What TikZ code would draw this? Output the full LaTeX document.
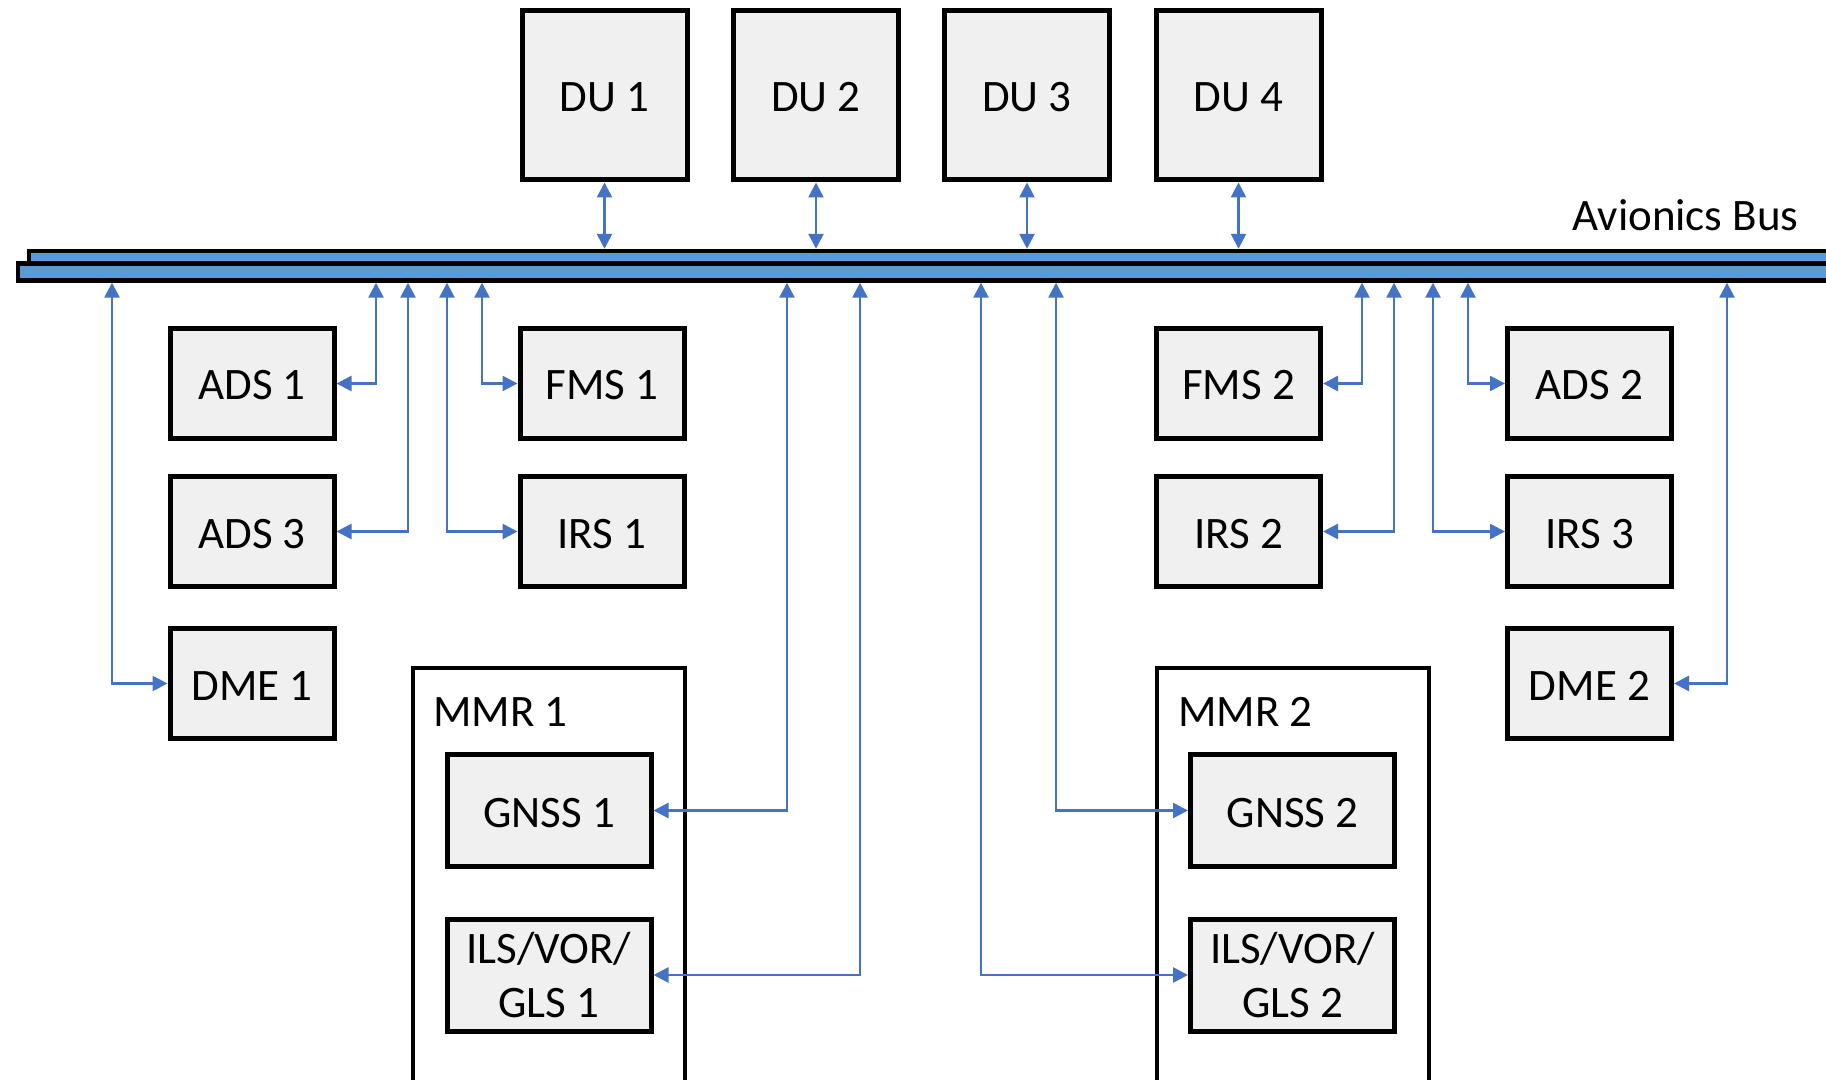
\documentclass[tikz,border=0pt]{standalone}
\usepackage{fontspec}
\setmainfont{Carlito}
\usetikzlibrary{arrows.meta}
\definecolor{busblue}{HTML}{5B9BD5}
\definecolor{linkblue}{HTML}{4472C4}
\definecolor{boxfill}{HTML}{F0F0F0}
\begin{document}
\begin{tikzpicture}[x=0.5pt,y=-0.5pt,
  font=\fontsize{22.5pt}{27pt}\selectfont,
  unit/.style={draw, line width=2.5pt, fill=boxfill, inner sep=0pt, align=center},
  oneline/.style={text height=16.5pt, text depth=0pt},
  lru/.style={unit, oneline, minimum width=82pt, minimum height=55pt},
  display/.style={unit, oneline, minimum width=82.5pt, minimum height=84.5pt},
  radio/.style={unit, minimum width=102pt, minimum height=56pt},
  rack/.style={draw, line width=2pt, fill=white, inner sep=0pt, minimum width=136pt, minimum height=216pt},
  busbar/.style={draw, line width=2.2pt, fill=busblue, inner sep=0pt},
  caption/.style={anchor=base west, inner sep=0pt},
  link/.style={linkblue, line width=1.3pt,
    {Triangle[length=7.5pt,width=7.5pt]}-{Triangle[length=7.5pt,width=7.5pt]}}]
\clip (0,0) rectangle (1826,1080);

% avionics bus: two stacked bars
\node[busbar, minimum width=935.5pt, minimum height=6.25pt] (busU) at (964.5,257.25) {};
\node[busbar, minimum width=941pt, minimum height=8.5pt] (busL) at (959,272) {};
\node[caption] (buslabel) at (1572,231) {Avionics Bus};

% display units
\node[display] (du1) at (604.5,95.5) {DU 1};
\node[display] (du2) at (816,95.5) {DU 2};
\node[display] (du3) at (1027,95.5) {DU 3};
\node[display] (du4) at (1238.5,95.5) {DU 4};

% left side units
\node[lru] (ads1) at (252,383.5) {ADS 1};
\node[lru] (ads3) at (252,531.5) {ADS 3};
\node[lru] (dme1) at (252,683.5) {DME 1};
\node[lru] (fms1) at (602,383.5) {FMS 1};
\node[lru] (irs1) at (602,531.5) {IRS 1};

% right side units
\node[lru] (fms2) at (1238.5,383.5) {FMS 2};
\node[lru] (irs2) at (1238.5,531.5) {IRS 2};
\node[lru] (ads2) at (1589.5,383.5) {ADS 2};
\node[lru] (irs3) at (1589.5,531.5) {IRS 3};
\node[lru] (dme2) at (1589.5,683.5) {DME 2};

% multi-mode receivers
\node[rack] (mmr1) at (549,884) {};
\node[caption] (mmr1label) at (433,726) {MMR 1};
\node[radio, oneline] (gnss1) at (549,810.5) {GNSS 1};
\node[radio] (ils1) at (549,975) {ILS/VOR/\\GLS 1};

\node[rack] (mmr2) at (1292.5,884) {};
\node[caption] (mmr2label) at (1178,726) {MMR 2};
\node[radio, oneline] (gnss2) at (1292.5,810.5) {GNSS 2};
\node[radio] (ils2) at (1292.5,975) {ILS/VOR/\\GLS 2};

% display units to bus
\foreach \d in {du1,du2,du3,du4}
  \draw[link] (\d.south) -- (\d.south |- busU.north);

% bus taps
\draw[link] (dme1.west) -| (busL.south -| 112,0);
\draw[link] (ads1.east) -| (busL.south -| 376,0);
\draw[link] (ads3.east) -| (busL.south -| 408,0);
\draw[link] (irs1.west) -| (busL.south -| 447,0);
\draw[link] (fms1.west) -| (busL.south -| 482,0);
\draw[link] (gnss1.east) -| (busL.south -| 787,0);
\draw[link] (ils1.east) -| (busL.south -| 860,0);
\draw[link] (ils2.west) -| (busL.south -| 981,0);
\draw[link] (gnss2.west) -| (busL.south -| 1056,0);
\draw[link] (fms2.east) -| (busL.south -| 1362,0);
\draw[link] (irs2.east) -| (busL.south -| 1394,0);
\draw[link] (irs3.west) -| (busL.south -| 1433,0);
\draw[link] (ads2.west) -| (busL.south -| 1468,0);
\draw[link] (dme2.east) -| (busL.south -| 1727,0);
\end{tikzpicture}
\end{document}
